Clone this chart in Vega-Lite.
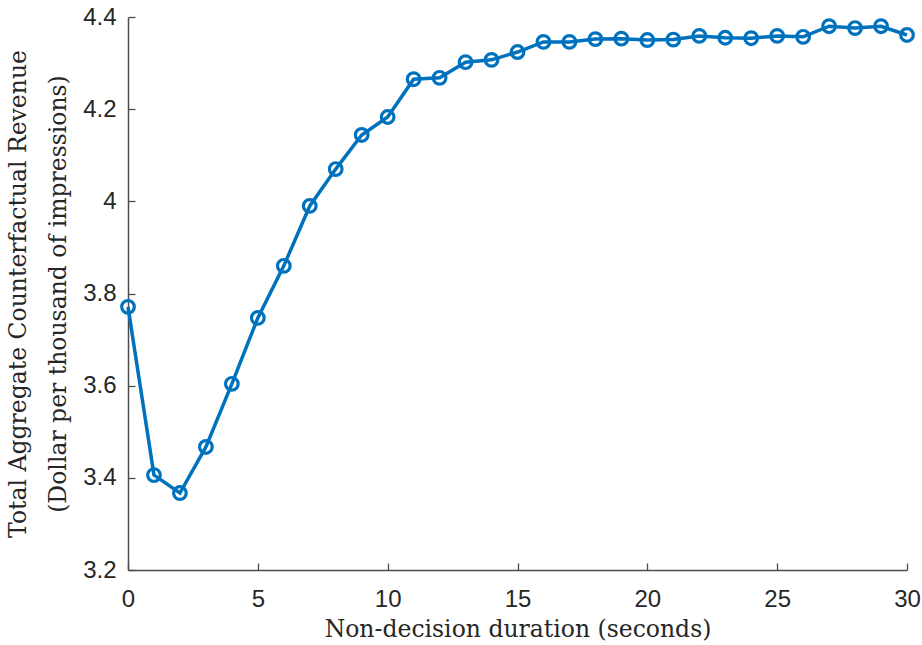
{
  "$schema": "https://vega.github.io/schema/vega-lite/v6.json",
  "autosize": {"type": "none"},
  "padding": {"left": 128, "top": 17, "right": 15, "bottom": 75},
  "width": 779,
  "height": 553,
  "background": "white",
  "config": {
    "view": {"stroke": null},
    "axis": {
      "grid": false,
      "domainColor": "#4d4d4d",
      "domainWidth": 1.5,
      "tickColor": "#4d4d4d",
      "tickWidth": 1.3,
      "tickSize": -7,
      "labelFlush": false,
      "labelFont": "Liberation Sans",
      "labelFontSize": 24,
      "labelColor": "#262626",
      "titleFont": "DejaVu Serif",
      "titleFontSize": 23.5,
      "titleFontWeight": "normal",
      "titleColor": "#262626"
    }
  },
  "data": {
    "values": [
      {"x": 0, "y": 3.771}, {"x": 1, "y": 3.406}, {"x": 2, "y": 3.367}, {"x": 3, "y": 3.467},
      {"x": 4, "y": 3.604}, {"x": 5, "y": 3.747}, {"x": 6, "y": 3.860}, {"x": 7, "y": 3.990},
      {"x": 8, "y": 4.070}, {"x": 9, "y": 4.144}, {"x": 10, "y": 4.183}, {"x": 11, "y": 4.265},
      {"x": 12, "y": 4.268}, {"x": 13, "y": 4.302}, {"x": 14, "y": 4.307}, {"x": 15, "y": 4.324},
      {"x": 16, "y": 4.346}, {"x": 17, "y": 4.346}, {"x": 18, "y": 4.352}, {"x": 19, "y": 4.353},
      {"x": 20, "y": 4.350}, {"x": 21, "y": 4.351}, {"x": 22, "y": 4.359}, {"x": 23, "y": 4.355},
      {"x": 24, "y": 4.354}, {"x": 25, "y": 4.359}, {"x": 26, "y": 4.357}, {"x": 27, "y": 4.380},
      {"x": 28, "y": 4.376}, {"x": 29, "y": 4.380}, {"x": 30, "y": 4.361}
    ]
  },
  "encoding": {
    "x": {
      "field": "x", "type": "quantitative",
      "scale": {"domain": [0, 30], "nice": false, "zero": false},
      "axis": {
        "values": [0, 5, 10, 15, 20, 25, 30],
        "title": "Non-decision duration (seconds)",
        "labelPadding": 24,
        "titlePadding": 6
      }
    },
    "y": {
      "field": "y", "type": "quantitative",
      "scale": {"domain": [3.2, 4.4], "nice": false, "zero": false},
      "axis": {
        "values": [3.2, 3.4, 3.6, 3.8, 4, 4.2, 4.4],
        "format": "~g",
        "title": ["Total Aggregate Counterfactual Revenue", "(Dollar per thousand of impressions)"],
        "titleLineHeight": 40,
        "labelPadding": 19,
        "titlePadding": 12
      }
    }
  },
  "layer": [
    {"mark": {"type": "line", "color": "#0072BD", "strokeWidth": 3.5}},
    {"mark": {"type": "point", "filled": false, "color": "#0072BD", "strokeWidth": 3.2, "size": 160, "opacity": 1}}
  ]
}
